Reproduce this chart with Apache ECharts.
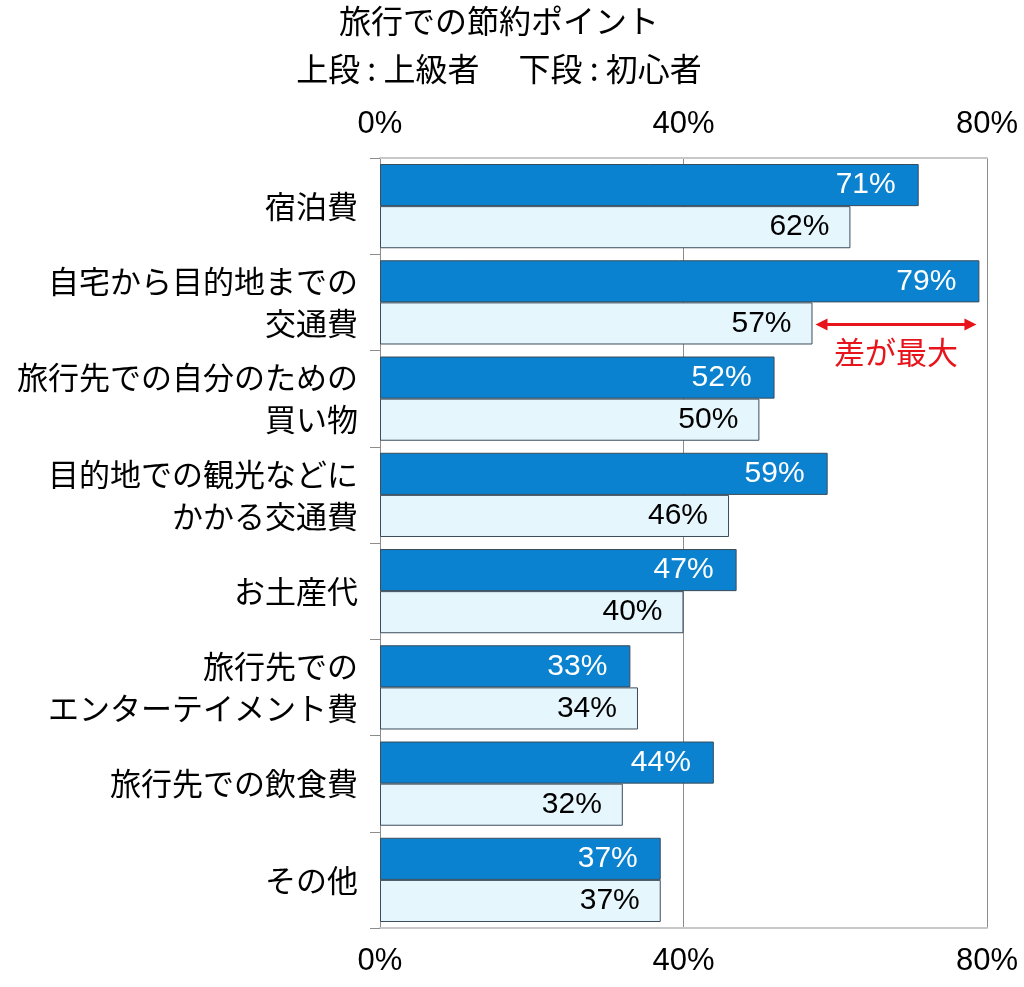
<!DOCTYPE html>
<html>
<head>
<meta charset="utf-8">
<script src="https://cdn.jsdelivr.net/npm/echarts@6/dist/echarts.min.js"></script>
<style>
  html, body { margin: 0; padding: 0; background: #fff; }
  #chart { width: 1024px; height: 987px; }
</style>
</head>
<body>
<div id="chart"></div>
<script>
const categories = [
  '宿泊費',
  '自宅から目的地までの\n交通費',
  '旅行先での自分のための\n買い物',
  '目的地での観光などに\nかかる交通費',
  'お土産代',
  '旅行先での\nエンターテイメント費',
  '旅行先での飲食費',
  'その他'
];
const expert = [71, 79, 52, 59, 47, 33, 44, 37];   // 上段:上級者
const beginner = [62, 57, 50, 46, 40, 34, 32, 37]; // 下段:初心者
const axisTicks = [0, 40, 80];

const cjk = '"Noto Sans CJK JP", sans-serif';
const num = '"Liberation Sans", Arial, sans-serif';

const chart = echarts.init(document.getElementById('chart'));

const xAxisBase = {
  type: 'value',
  min: axisTicks[0],
  max: axisTicks[axisTicks.length - 1],
  interval: axisTicks[1] - axisTicks[0],
  axisLine: { show: true, lineStyle: { color: '#c8c8c8', width: 2 } },
  axisTick: { show: false },
  axisLabel: {
    formatter: '{value}%',
    color: '#000',
    fontSize: 31,
    fontFamily: num,
    margin: 18
  }
};

const option = {
  animation: false,
  title: {
    text: '旅行での節約ポイント\n上段 : 上級者　 下段 : 初心者',
    left: 494,
    top: -8,
    textAlign: 'center',
    textStyle: {
      fontFamily: cjk,
      fontSize: 32,
      fontWeight: 'normal',
      color: '#000',
      lineHeight: 48
    }
  },
  grid: { left: 380, right: 37, top: 158, bottom: 59 },
  xAxis: [
    Object.assign({}, xAxisBase, {
      position: 'top',
      splitLine: { show: true, lineStyle: { color: '#8c8c8c', width: 1 } }
    }),
    Object.assign({}, xAxisBase, {
      position: 'bottom',
      splitLine: { show: false }
    })
  ],
  yAxis: {
    type: 'category',
    inverse: true,
    data: categories,
    axisLine: { show: true, lineStyle: { color: '#8c8c8c', width: 1 } },
    axisTick: { show: true, length: 10, lineStyle: { color: '#8c8c8c' } },
    axisLabel: {
      color: '#000',
      fontSize: 31,
      fontFamily: cjk,
      lineHeight: 42,
      margin: 22,
      align: 'right'
    }
  },
  series: [
    {
      name: '上級者',
      type: 'bar',
      data: expert,
      barGap: '0%',
      barCategoryGap: '12.5%',
      itemStyle: { color: '#0a82cf', borderColor: '#3b4c5c', borderWidth: 1 },
      label: {
        show: true,
        position: 'insideRight',
        distance: 23,
        formatter: '{c}%',
        color: '#fff',
        fontSize: 30,
        fontFamily: num
      }
    },
    {
      name: '初心者',
      type: 'bar',
      data: beginner,
      itemStyle: { color: '#e6f6fd', borderColor: '#3b4c5c', borderWidth: 1 },
      label: {
        show: true,
        position: 'insideRight',
        distance: 21,
        formatter: '{c}%',
        color: '#000',
        fontSize: 30,
        fontFamily: num
      }
    }
  ]
};

chart.setOption(option);

// annotation: 差が最大 between beginner and expert for category 2
const idx = 1;
const p1 = chart.convertToPixel({ gridIndex: 0 }, [beginner[idx], idx]);
const p2 = chart.convertToPixel({ gridIndex: 0 }, [expert[idx], idx]);
const yArrow = p1[1] + 22;
const x1 = p1[0] + 3;
const x2 = p2[0] - 3;
const red = '#e8141b';
chart.setOption({
  graphic: [
    {
      type: 'line',
      shape: { x1: x1 + 8, y1: yArrow, x2: x2 - 8, y2: yArrow },
      style: { stroke: red, lineWidth: 3 }
    },
    {
      type: 'polygon',
      shape: { points: [[x1, yArrow], [x1 + 12, yArrow - 6], [x1 + 12, yArrow + 6]] },
      style: { fill: red }
    },
    {
      type: 'polygon',
      shape: { points: [[x2, yArrow], [x2 - 12, yArrow - 6], [x2 - 12, yArrow + 6]] },
      style: { fill: red }
    },
    {
      type: 'text',
      x: (x1 + x2) / 2,
      y: yArrow + 28,
      style: {
        text: '差が最大',
        fill: red,
        fontSize: 31,
        fontFamily: cjk,
        align: 'center',
        verticalAlign: 'middle'
      }
    }
  ]
});
</script>
</body>
</html>
